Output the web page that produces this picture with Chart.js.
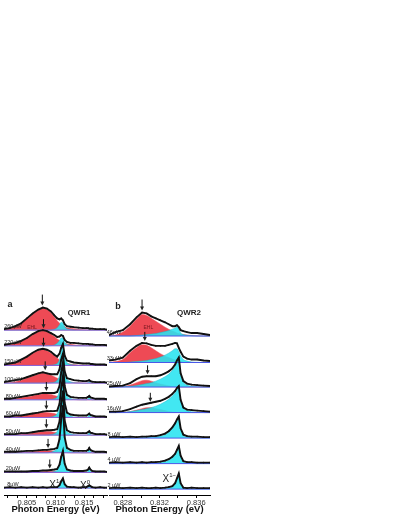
<!DOCTYPE html>
<html>
<head>
  <title>QWR spectra</title>
  <script src="https://cdn.jsdelivr.net/npm/chart.js"></script>
  <style>
    body { margin: 0; background: #fff; }
    .panel { position: absolute; top: 280px; }
  </style>
</head>
<body>
  <div class="panel" style="left:0px;"><canvas id="chartA" width="112" height="235"></canvas></div>
  <div class="panel" style="left:105px;"><canvas id="chartB" width="110" height="235"></canvas></div>

  <script>
    // ---- panel a (QWR1) ----
    const energyA = [0.8010, 0.8020, 0.8030, 0.8040, 0.8050, 0.8060, 0.8070, 0.8078, 0.8085, 0.8092,
                     0.8098, 0.8103, 0.8107, 0.8110, 0.8113, 0.8116, 0.8120, 0.8126, 0.8132, 0.8140,
                     0.8148, 0.8154, 0.8157, 0.8159, 0.8161, 0.8164, 0.8170, 0.8178, 0.8185, 0.8190];
    const powerA = ['260\u00b5W', '220\u00b5W', '150\u00b5W', '100\u00b5W', '80\u00b5W', '60\u00b5W', '50\u00b5W', '40\u00b5W', '20\u00b5W', '8\u00b5W'];
    const offsetA = [168, 152, 132, 114, 97, 79, 61, 43, 23, 7];
    const measA = [
      [1, 2, 4, 7, 12, 17, 21, 23, 22, 19, 15, 12, 11, 12, 10, 6, 4, 3.5, 3, 2.5, 2, 2, 2, 1.5, 1.5, 1.5, 1, 1, 1, 0.5],
      [1, 2, 3, 5, 8, 12, 15, 16, 15, 13, 11, 9, 9.5, 11, 10, 6, 4, 3, 3, 2.5, 2, 2, 2, 1.5, 1.5, 1.5, 1, 1, 1, 0.5],
      [1, 2, 3, 6, 9, 13, 16, 17, 16, 14, 11, 9, 12, 18, 22, 10, 5, 4, 3, 2.5, 2, 2, 2, 2, 1.5, 1.5, 1, 1, 1, 0.5],
      [1, 2, 3, 4, 6, 8, 10, 11, 10, 9, 9, 9, 14, 24, 30, 12, 5, 4, 3, 2.5, 2, 2, 2.5, 3, 2, 1.5, 1, 1, 1, 0.5],
      [1, 1, 2, 3, 4, 5, 6, 7, 7, 7, 7, 8, 14, 28, 38, 14, 5, 3, 2.5, 2, 2, 2, 3, 4, 2.5, 2, 1, 1, 1, 0.5],
      [1, 1, 2, 2, 3, 4, 5, 6, 6.5, 6.5, 6.5, 7, 14, 30, 42, 15, 5, 3, 2.5, 2, 2, 2, 3, 4, 2.5, 2, 1, 1, 1, 0.5],
      [1, 1, 1, 2, 2, 3, 4, 4.5, 5, 5, 5.5, 6, 14, 32, 45, 15, 5, 3, 2.5, 2, 2, 2, 3, 4, 2.5, 2, 1, 1, 1, 0.5],
      [1, 1, 1, 1.5, 2, 2, 2.5, 3, 3, 3.5, 4, 5, 14, 34, 48, 16, 5, 3, 2, 2, 2, 2, 3, 5, 3, 2, 1, 1, 1, 0.5],
      [1, 1, 1, 1, 1, 1.5, 1.5, 2, 2, 2.5, 3, 3.5, 8, 16, 22, 9, 3, 2, 1.5, 1.5, 1.5, 2, 3, 5, 3, 1.5, 1, 1, 1, 0.5],
      [0.5, 1, 0.5, 1, 0.5, 1, 0.5, 1, 0.5, 1, 1, 1, 3, 7, 10, 4, 1.5, 1, 1, 0.5, 1, 1, 2, 3, 2, 1, 0.5, 1, 0.5, 0.5]
    ];
    const ehlA = [
      [0.5, 1.5, 3.5, 6.5, 11, 16, 20, 22, 21, 17.5, 13.5, 9.5, 7, 5.5, 4.5, 3.5, 2.5, 2, 1.5, 1, 0.5, 0.3, 0.2, 0.1, 0, 0, 0, 0, 0, 0],
      [0.3, 1, 2.5, 4.5, 7.5, 11, 14, 15, 14, 12, 9.5, 7, 5.5, 4.5, 3.5, 2.5, 2, 1.5, 1, 0.5, 0.3, 0.2, 0.1, 0, 0, 0, 0, 0, 0, 0],
      [0.3, 1, 2.5, 5, 8.5, 12, 15, 16, 15, 12.5, 10, 7.5, 5.5, 4.5, 3.5, 2.5, 2, 1.5, 1, 0.5, 0.3, 0.2, 0, 0, 0, 0, 0, 0, 0, 0],
      [0.2, 0.5, 1.5, 3, 5, 7, 9, 10, 9.5, 8, 6.5, 5, 4, 3, 2.5, 2, 1.5, 1, 0.5, 0.3, 0.2, 0, 0, 0, 0, 0, 0, 0, 0, 0],
      [0, 0.3, 1, 2, 3, 4, 5.5, 6, 6, 5.5, 4.5, 3.5, 3, 2.5, 2, 1.5, 1, 0.5, 0.3, 0, 0, 0, 0, 0, 0, 0, 0, 0, 0, 0],
      [0, 0.3, 0.8, 1.5, 2.5, 3.5, 4.5, 5, 5, 4.5, 4, 3, 2.5, 2, 1.5, 1, 0.5, 0.3, 0, 0, 0, 0, 0, 0, 0, 0, 0, 0, 0, 0],
      [0, 0.2, 0.5, 1, 1.5, 2.3, 3, 3.5, 3.6, 3.4, 3, 2.4, 2, 1.5, 1, 0.7, 0.4, 0.2, 0, 0, 0, 0, 0, 0, 0, 0, 0, 0, 0, 0],
      [0, 0, 0.3, 0.5, 0.8, 1.2, 1.6, 2, 2.2, 2.1, 1.9, 1.6, 1.3, 1, 0.7, 0.4, 0.2, 0, 0, 0, 0, 0, 0, 0, 0, 0, 0, 0, 0, 0],
      [0, 0, 0, 0, 0, 0.3, 0.5, 0.8, 1, 1.1, 1.1, 1, 0.8, 0.6, 0.4, 0.2, 0, 0, 0, 0, 0, 0, 0, 0, 0, 0, 0, 0, 0, 0],
      null
    ];
    const excA = [
      [0, 0, 0, 0, 0, 0, 0, 0, 0, 0.2, 0.8, 2.5, 5.5, 8, 7, 3.5, 1.5, 0.6, 0.2, 0, 0, 0, 0, 0, 0, 0, 0, 0, 0, 0],
      [0, 0, 0, 0, 0, 0, 0, 0, 0, 0.2, 0.8, 2.5, 5.5, 8, 7.5, 4, 1.5, 0.6, 0.2, 0, 0, 0, 0, 0, 0, 0, 0, 0, 0, 0],
      [0, 0, 0, 0, 0, 0, 0, 0, 0, 0.3, 0.8, 2, 6, 14, 20, 8, 3, 1, 0.5, 0.2, 0, 0, 0, 0, 0, 0, 0, 0, 0, 0],
      [0, 0, 0, 0, 0, 0, 0, 0, 0, 0.4, 1, 3, 8, 20, 28, 10, 4, 1.5, 0.5, 0.2, 0, 0, 0.5, 1.5, 0.5, 0, 0, 0, 0, 0],
      [0, 0, 0, 0, 0, 0, 0, 0, 0, 0.5, 1, 3, 10, 26, 36, 12, 4, 1.5, 0.5, 0.2, 0, 0, 1, 2.5, 1, 0, 0, 0, 0, 0],
      [0, 0, 0, 0, 0, 0, 0, 0, 0, 0.5, 1.5, 4, 11, 28, 40, 13, 4, 1.5, 0.5, 0.2, 0, 0, 1, 2.5, 1, 0, 0, 0, 0, 0],
      [0, 0, 0, 0, 0, 0, 0, 0, 0, 0.5, 1.5, 4, 12, 30, 43, 14, 4, 1.5, 0.5, 0.2, 0, 0, 1, 2.5, 1, 0, 0, 0, 0, 0],
      [0, 0, 0, 0, 0, 0, 0, 0, 0, 0.6, 2, 4, 12, 32, 46, 15, 4, 1.5, 0.5, 0.2, 0, 0, 1.5, 3.5, 1.5, 0, 0, 0, 0, 0],
      [0, 0, 0, 0, 0, 0, 0, 0, 0, 0.3, 1, 2.5, 7, 15, 21, 8, 2.5, 1, 0.3, 0, 0, 0, 1.5, 4, 1.5, 0, 0, 0, 0, 0],
      [0, 0, 0, 0, 0, 0, 0, 0, 0, 0, 0.3, 1, 3, 7, 9, 3.5, 1, 0.3, 0, 0, 0, 0, 1, 2.5, 1, 0, 0, 0, 0, 0]
    ];
    const arrowEA = [0.8077, 0.8079, 0.8079, 0.8082, 0.8084, 0.8084, 0.8084, 0.8087, 0.8090, null];
    const arrowHA = [25, 18, 19, 13, 9, 8, 7, 5, 4, null];
    const ticksA = [0.80167, 0.80333, 0.805, 0.80667, 0.80833, 0.810, 0.81167, 0.81333, 0.815, 0.81667, 0.81833];
    const labelTicksA = [0.805, 0.810, 0.815];

    // ---- panel b (QWR2) ----
    const energyB = [0.8265, 0.8272, 0.8280, 0.8288, 0.8295, 0.8301, 0.8306, 0.8311, 0.8316, 0.8321, 0.8326, 0.8330,
                     0.8334, 0.8337, 0.8339, 0.8341, 0.8343, 0.8346, 0.8350, 0.8355, 0.8361, 0.8368, 0.8375];
    const powerB = ['46\u00b5W', '33\u00b5W', '25\u00b5W', '16\u00b5W', '8 \u00b5W', '4 \u00b5W', '2 \u00b5W'];
    const offsetB = [162, 135, 110, 84, 58, 32, 6];
    const measB = [
      [1, 4, 6, 12, 19, 24, 23, 20, 18, 16, 14, 12, 10, 10, 11, 9, 6, 5, 4, 3, 3, 2, 1],
      [2, 3, 5, 12, 17, 20, 19.5, 18, 17, 17, 17, 18, 19, 20, 19.5, 15, 11, 6, 4, 3, 3, 2, 1.5],
      [0.5, 1, 1.5, 4, 8, 10.5, 11, 11, 11, 12, 14, 16, 19, 23, 27, 30, 14, 6, 3.5, 2.5, 2, 1.5, 1],
      [1, 1, 1.5, 3.5, 6, 8, 9, 10, 11, 12, 14, 16, 19, 22, 25, 27, 13, 5, 3, 2.5, 2, 1.5, 1],
      [1, 1.5, 1, 1.5, 1, 1.5, 1.5, 2, 2, 3, 4.5, 7, 11, 15, 19, 22, 10, 3.5, 2, 1.5, 1.5, 1, 1],
      [1, 1.5, 1, 1.5, 1, 1.5, 1, 1.5, 1.5, 2, 3, 4.5, 7, 10, 14, 18, 8, 2.5, 1.5, 1.5, 1, 1, 1],
      [1, 1.5, 1, 1.5, 1, 1.5, 1, 1, 1.5, 1, 1.5, 2, 3, 6, 11, 16, 6, 1.5, 1, 1.5, 1, 1, 1]
    ];
    const ehlB = [
      [0, 1, 4, 10, 17, 22, 21, 18, 15, 12, 9, 7, 5, 4, 3, 2.5, 2, 1.5, 1, 0.5, 0.2, 0, 0],
      [0, 1, 3, 10, 15, 18, 17.5, 15, 12, 9, 6.5, 5, 3.5, 2.5, 2, 1.5, 1, 0.6, 0.3, 0.1, 0, 0, 0],
      [0, 0, 0.5, 2, 4.5, 6.5, 7, 6, 4.5, 3, 2, 1.2, 0.6, 0.3, 0.1, 0, 0, 0, 0, 0, 0, 0, 0],
      [0, 0, 0.3, 1, 2.5, 4, 5, 5, 4, 3, 2, 1.2, 0.6, 0.3, 0.1, 0, 0, 0, 0, 0, 0, 0, 0],
      null, null, null
    ];
    const excB = [
      [0, 0, 0, 0, 0.5, 1, 1.5, 2, 2.5, 3.5, 4.5, 5.5, 7, 8, 9, 7, 3, 1.5, 0.8, 0.3, 0, 0, 0],
      [0, 0, 0, 0.5, 1, 1.5, 2, 3, 4, 5.5, 7.5, 9.5, 12, 14, 14, 11, 7, 3, 1.5, 0.5, 0.2, 0, 0],
      [0, 0, 0.3, 0.8, 1.5, 2.5, 3.5, 4.5, 6, 8, 10.5, 13, 17, 21, 25, 28, 13, 5, 2, 0.8, 0.3, 0, 0],
      [0, 0, 0.3, 1, 2, 3, 4, 5, 6.5, 8.5, 11, 13.5, 17, 20, 23, 25, 12, 4.5, 2, 0.8, 0.3, 0, 0],
      [0, 0, 0, 0, 0.2, 0.3, 0.5, 0.8, 1.2, 2, 3.5, 6, 10, 14, 18, 21, 9, 3, 1, 0.4, 0.2, 0, 0],
      [0, 0, 0, 0, 0, 0, 0.2, 0.3, 0.5, 1, 1.8, 3.5, 6, 9, 13, 17, 7, 1.5, 0.5, 0.2, 0, 0, 0],
      [0, 0, 0, 0, 0, 0, 0, 0, 0, 0.2, 0.5, 1.2, 2.5, 5, 10, 15, 5, 1, 0.3, 0, 0, 0, 0]
    ];
    const arrowEB = [0.8301, 0.8304, 0.8307, 0.8310, null, null, null];
    const arrowHB = [26, 22, 13, 11, null, null, null];
    const ticksB = [0.828, 0.830, 0.832, 0.834, 0.836];
    const labelTicksB = [0.828, 0.832, 0.836];

    const FONT = "'Liberation Sans', Arial, sans-serif";
    const RED = '#ee4a55';
    const CYAN = 'rgba(40, 228, 240, 0.88)';

    function buildDatasets(energy, offsets, meas, ehl, exc, baseColor) {
      const ds = [];
      offsets.forEach((off, i) => {
        const pts = arr => arr.map((v, k) => ({ x: energy[k], y: off + v }));
        ds.push({ data: pts(meas[i]), borderColor: '#111', borderWidth: 1.9, pointRadius: 0.8,
                  pointBackgroundColor: '#111', pointBorderWidth: 0, fill: false, order: 0 });
        ds.push({ data: [{ x: energy[0], y: off }, { x: energy[energy.length - 1], y: off }],
                  borderColor: baseColor, borderWidth: 1, pointRadius: 0, fill: false, order: 1 });
        if (exc[i]) ds.push({ data: pts(exc[i]), borderColor: 'rgba(20, 180, 200, 0.9)', borderWidth: 0.5,
                              backgroundColor: CYAN, fill: { value: off }, pointRadius: 0,
                              cubicInterpolationMode: 'monotone', order: 2 });
        if (ehl[i]) ds.push({ data: pts(ehl[i]), borderColor: RED, borderWidth: 0.5,
                              backgroundColor: RED, fill: { value: off }, pointRadius: 0,
                              cubicInterpolationMode: 'monotone', order: 3 });
      });
      return ds;
    }

    // texts and arrows on top of the spectra
    function overlay(cfg) {
      return {
        id: 'overlay',
        afterDatasetsDraw(chart) {
          const { ctx, scales: { x, y } } = chart;
          ctx.save();
          ctx.fillStyle = '#222';
          ctx.strokeStyle = '#111';
          // power labels
          ctx.font = '5.5px ' + FONT;
          ctx.textAlign = 'center';
          ctx.textBaseline = 'bottom';
          cfg.powers.forEach((p, i) => ctx.fillText(p, cfg.powerX, y.getPixelForValue(cfg.offsets[i]) - 1));
          // arrows
          cfg.arrowE.forEach((e, i) => {
            if (e === null) return;
            const px = x.getPixelForValue(e);
            const tip = y.getPixelForValue(cfg.offsets[i] + cfg.arrowH[i]);
            const len = i === 0 ? 11 : 9;
            ctx.lineWidth = 1;
            ctx.beginPath();
            ctx.moveTo(px, tip - len);
            ctx.lineTo(px, tip - 3);
            ctx.stroke();
            ctx.beginPath();
            ctx.moveTo(px - 2, tip - 4);
            ctx.lineTo(px + 2, tip - 4);
            ctx.lineTo(px, tip);
            ctx.closePath();
            ctx.fill();
          });
          // panel letter and wire name
          ctx.textAlign = 'center';
          ctx.textBaseline = 'middle';
          ctx.font = 'bold 9px ' + FONT;
          ctx.fillText(cfg.letter, cfg.letterPos[0], cfg.letterPos[1]);
          ctx.font = 'bold ' + cfg.nameSize + 'px ' + FONT;
          ctx.fillText(cfg.name, cfg.namePos[0], cfg.namePos[1]);
          // EHL
          ctx.fillStyle = '#7a1a22';
          ctx.font = '5px ' + FONT;
          ctx.fillText('EHL', x.getPixelForValue(cfg.ehlAt[0]), y.getPixelForValue(cfg.ehlAt[1]));
          // exciton labels
          ctx.fillStyle = '#222';
          cfg.xLabels.forEach(([e, v, sup]) => {
            const px = x.getPixelForValue(e), py = y.getPixelForValue(v);
            ctx.font = '10px ' + FONT;
            ctx.textAlign = 'center';
            ctx.fillText('X', px, py);
            ctx.font = '6px ' + FONT;
            ctx.textAlign = 'left';
            ctx.fillText(sup, px + 3.5, py - 4);
          });
          ctx.restore();
        }
      };
    }

    function xScale(min, max, ticks, labelTicks) {
      return {
        type: 'linear', min: min, max: max,
        afterBuildTicks: s => { s.ticks = ticks.map(v => ({ value: v })); },
        afterFit: s => { s.height = 20; },
        border: { display: true, color: '#000', width: 1 },
        grid: { drawOnChartArea: false, drawTicks: true, tickLength: 3, color: '#000' },
        ticks: {
          autoSkip: false, maxRotation: 0, padding: 0, color: '#333',
          font: { size: 7.5, family: FONT },
          callback: v => labelTicks.some(m => Math.abs(m - v) < 1e-6) ? v.toFixed(3) : ''
        },
        title: { display: true, text: 'Photon Energy (eV)', color: '#111', padding: 0,
                 font: { size: 9.5, weight: 'bold', family: FONT } }
      };
    }

    function makeChart(id, datasets, scaleX, plugin) {
      return new Chart(document.getElementById(id), {
        type: 'line',
        data: { datasets: datasets },
        options: {
          responsive: false, animation: false, events: [],
          layout: { padding: { left: 3, right: 5, top: 0, bottom: 0 } },
          plugins: { legend: { display: false }, tooltip: { enabled: false } },
          scales: { x: scaleX, y: { display: false, min: 0, max: 215 } }
        },
        plugins: [plugin]
      });
    }

    makeChart('chartA',
      buildDatasets(energyA, offsetA, measA, ehlA, excA, '#8a60d6'),
      xScale(0.801, 0.819, ticksA, labelTicksA),
      overlay({
        powers: powerA, offsets: offsetA, powerX: 13,
        arrowE: arrowEA, arrowH: arrowHA,
        letter: 'a', letterPos: [10, 25], name: 'QWR1', nameSize: 7.5, namePos: [79, 33],
        ehlAt: [0.8059, 171],
        xLabels: [[0.80948, 9.5, '1\u2212'], [0.81485, 9, '0']]
      }));

    makeChart('chartB',
      buildDatasets(energyB, offsetB, measB, ehlB, excB, '#4a58e8'),
      xScale(0.8265, 0.8375, ticksB, labelTicksB),
      overlay({
        powers: powerB, offsets: offsetB, powerX: 9,
        arrowE: arrowEB, arrowH: arrowHB,
        letter: 'b', letterPos: [13, 27], name: 'QWR2', nameSize: 8, namePos: [84, 33],
        ehlAt: [0.83078, 170.7],
        xLabels: [[0.83268, 16, '1\u2212']]
      }));
  </script>
</body>
</html>
